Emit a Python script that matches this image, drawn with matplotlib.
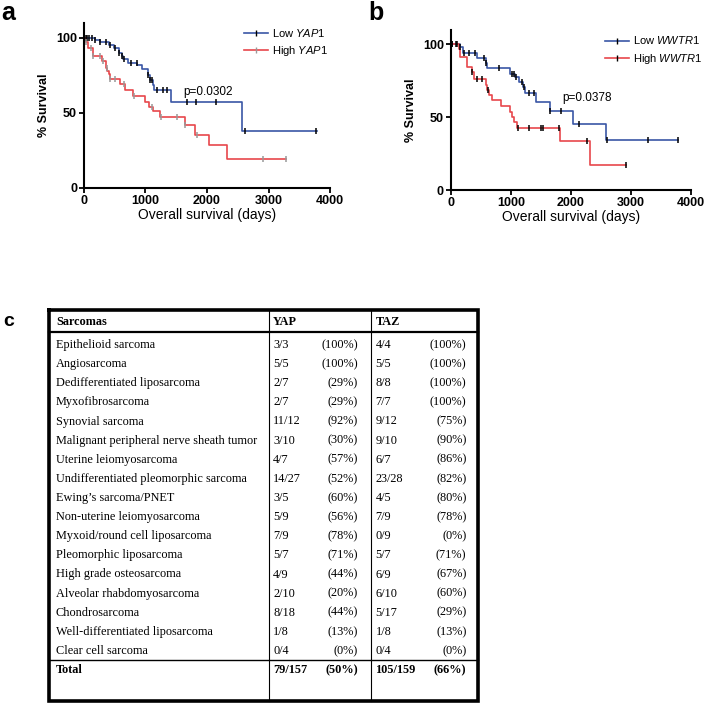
import numpy as np
import matplotlib
matplotlib.use("Agg")
import matplotlib.pyplot as plt
from matplotlib.lines import Line2D

plt.rcParams['font.family'] = ['Liberation Sans', 'DejaVu Sans']
plt.rcParams['mathtext.fontset'] = 'custom'
plt.rcParams['mathtext.it'] = 'Liberation Sans:italic'
plt.rcParams['mathtext.rm'] = 'Liberation Sans'

BLUE = '#3a56a5'
RED = '#e8474c'

# ---- panel a: YAP1 ----
a_low_t = [0, 180, 260, 410, 480, 575, 610, 640, 720, 860, 940, 1045, 1075, 1115, 1140, 1410, 2570, 3780]
a_low_s = [100, 98.5, 97, 95.5, 93.3, 90, 87.8, 86, 83.3, 81.8, 79.3, 75.6, 72.2, 68.9, 65.3, 57, 38, 38]
a_low_cens = [30, 55, 85, 125, 180, 260, 360, 420, 500, 575, 610, 650, 770, 855, 1045, 1075,
              1100, 1180, 1290, 1345, 1670, 1815, 2145, 2610, 3775]
a_high_t = [0, 30, 60, 150, 290, 360, 380, 400, 420, 590, 670, 800, 990, 1050, 1130, 1240, 1640,
            1810, 2030, 2320, 3290]
a_high_s = [100, 97, 93, 88, 84.4, 80, 78, 76, 72.5, 69, 65.5, 61, 57, 54, 51, 47.5, 42,
            35.5, 28.5, 19, 19]
a_high_cens = [30, 110, 150, 260, 315, 370, 420, 500, 650, 820, 1100, 1260, 1505, 1640, 1830, 2915, 3285]

# ---- panel b: WWTR1 ----
b_low_t = [0, 150, 200, 440, 580, 600, 990, 1070, 1130, 1200, 1240, 1420, 1660, 2030, 2580, 3790]
b_low_s = [100, 98, 94, 90.5, 87, 83.5, 79.6, 77.5, 74, 71, 66.5, 60.6, 54.5, 45.3, 34, 34]
b_low_cens = [20, 80, 160, 215, 300, 410, 550, 580, 800, 1020, 1050, 1080, 1190, 1220, 1300,
              1380, 1660, 1830, 2130, 2600, 3285, 3785]
b_high_t = [0, 130, 160, 270, 350, 380, 580, 610, 640, 690, 830, 990, 1020, 1050, 1105, 1825, 2315, 2920]
b_high_s = [100, 96.5, 91.5, 84.7, 81, 76.4, 72.3, 68.6, 65.2, 61.8, 57.7, 53.3, 50.3, 47, 42.8,
            33.4, 17.2, 17.2]
b_high_cens = [20, 105, 355, 438, 520, 620, 1120, 1300, 1500, 1530, 1800, 2270, 2920]

# ---- panel c: table ----
sarcomas = ["Epithelioid sarcoma", "Angiosarcoma", "Dedifferentiated liposarcoma", "Myxofibrosarcoma",
            "Synovial sarcoma", "Malignant peripheral nerve sheath tumor", "Uterine leiomyosarcoma",
            "Undifferentiated pleomorphic sarcoma", "Ewing\u2019s sarcoma/PNET", "Non-uterine leiomyosarcoma",
            "Myxoid/round cell liposarcoma", "Pleomorphic liposarcoma", "High grade osteosarcoma",
            "Alveolar rhabdomyosarcoma", "Chondrosarcoma", "Well-differentiated liposarcoma",
            "Clear cell sarcoma"]
yap_pos = [3, 5, 2, 2, 11, 3, 4, 14, 3, 5, 7, 5, 4, 2, 8, 1, 0]
yap_n = [3, 5, 7, 7, 12, 10, 7, 27, 5, 9, 9, 7, 9, 10, 18, 8, 4]
yap_pct = [100, 100, 29, 29, 92, 30, 57, 52, 60, 56, 78, 71, 44, 20, 44, 13, 0]
taz_pos = [4, 5, 8, 7, 9, 9, 6, 23, 4, 7, 0, 5, 6, 6, 5, 1, 0]
taz_n = [4, 5, 8, 7, 12, 10, 7, 28, 5, 9, 9, 7, 9, 10, 17, 8, 4]
taz_pct = [100, 100, 100, 100, 75, 90, 86, 82, 80, 78, 0, 71, 67, 60, 29, 13, 0]
total_yap = "79/157"
total_yap_pct = 50
total_taz = "105/159"
total_taz_pct = 66

fig = plt.figure(figsize=(7.04, 7.03), dpi=100)


def km_panel(rect, lo_t, lo_s, lo_c, hi_t, hi_s, hi_c, gene, ptext, pxy, lo_tick, hi_tick, leg_anchor):
    ax = fig.add_axes(rect)
    ax.step(lo_t, lo_s, where='post', color=BLUE, lw=1.2)
    ax.step(hi_t, hi_s, where='post', color=RED, lw=1.2)
    for t, s, c, col in [(lo_t, lo_s, lo_c, lo_tick), (hi_t, hi_s, hi_c, hi_tick)]:
        idx = np.searchsorted(t, c, side='right') - 1
        ys = np.array(s)[idx]
        ax.plot(c, ys, ls='none', marker='|', ms=4, mew=1.1, color=col)
    ax.set_xlim(0, 4000)
    ax.set_ylim(0, 110)
    ax.set_xticks([0, 1000, 2000, 3000, 4000])
    ax.set_yticks([0, 50, 100])
    for sp in ['top', 'right']:
        ax.spines[sp].set_visible(False)
    for sp in ['left', 'bottom']:
        ax.spines[sp].set_linewidth(1.5)
    ax.tick_params(width=1.3, length=3.5, labelsize=9, pad=1.5)
    for lab in ax.get_xticklabels() + ax.get_yticklabels():
        lab.set_fontweight('bold')
    ax.set_xlabel('Overall survival (days)', fontsize=10, labelpad=1)
    ax.set_ylabel('% Survival', fontsize=9, fontweight='bold', labelpad=4)
    ax.text(pxy[0], pxy[1], ptext, fontsize=8.5)
    handles = [Line2D([], [], color=BLUE, lw=1.2, marker='|', ms=4, mec=lo_tick),
               Line2D([], [], color=RED, lw=1.2, marker='|', ms=4, mec=hi_tick)]
    ax.legend(handles, ['Low $\\mathit{%s}$' % gene, 'High $\\mathit{%s}$' % gene],
              loc='upper left', bbox_to_anchor=leg_anchor, bbox_transform=fig.transFigure,
              frameon=False, fontsize=8, handlelength=2.1, handletextpad=0.4,
              labelspacing=0.5, borderaxespad=0, borderpad=0)
    return ax


km_panel([0.1193, 0.7326, 0.3495, 0.2347], a_low_t, a_low_s, a_low_cens, a_high_t, a_high_s,
         a_high_cens, 'YAP1', 'p=0.0302', (1610, 62), 'black', '#999999', (0.347, 0.962))
km_panel([0.6402, 0.7297, 0.3413, 0.2281], b_low_t, b_low_s, b_low_cens, b_high_t, b_high_s,
         b_high_cens, 'WWTR1', 'p=0.0378', (1860, 61), 'black', 'black', (0.860, 0.951))

fig.text(0.002, 0.999, 'a', fontsize=18, fontweight='bold', va='top')
fig.text(0.523, 0.999, 'b', fontsize=18, fontweight='bold', va='top')
fig.text(0.005, 0.555, 'c', fontsize=14, fontweight='bold', va='top')

# table drawn in pixel layout space
tx = fig.add_axes([0, 0, 1, 1], zorder=-1)
tx.set_xlim(0, 704)
tx.set_ylim(703, 0)
tx.set_axis_off()

left, right, top, bottom = 49, 478, 310, 700.5
col1, col2 = 269, 371
tx.plot([left, right, right, left, left], [top, top, bottom, bottom, top], color='black', lw=2.6,
        solid_joinstyle='miter')
tx.plot([left, right], [331.5, 331.5], color='black', lw=1.6)
tx.plot([left, right], [660, 660], color='black', lw=1.0)
tx.plot([col1, col1], [top, bottom], color='black', lw=0.8)
tx.plot([col2, col2], [top, bottom], color='black', lw=0.8)

serif = dict(family=['Liberation Serif', 'DejaVu Serif'], fontsize=8.8, va='center')
bold = dict(serif, fontweight='bold')
tx.text(56, 322, 'Sarcomas', **bold)
tx.text(273, 322, 'YAP', **bold)
tx.text(375.5, 322, 'TAZ', **bold)

row0, dy = 345, 19.125
for i, name in enumerate(sarcomas):
    y = row0 + i * dy
    tx.text(56, y, name, **serif)
    tx.text(273, y, f'{yap_pos[i]}/{yap_n[i]}', **serif)
    tx.text(358, y, f'({yap_pct[i]}%)', ha='right', **serif)
    tx.text(375.5, y, f'{taz_pos[i]}/{taz_n[i]}', **serif)
    tx.text(466.5, y, f'({taz_pct[i]}%)', ha='right', **serif)

tx.text(56, 670, 'Total', **bold)
tx.text(273, 670, total_yap, **bold)
tx.text(358, 670, f'({total_yap_pct}%)', ha='right', **bold)
tx.text(375.5, 670, total_taz, **bold)
tx.text(466.5, 670, f'({total_taz_pct}%)', ha='right', **bold)

fig.savefig('out.png', dpi=100)
